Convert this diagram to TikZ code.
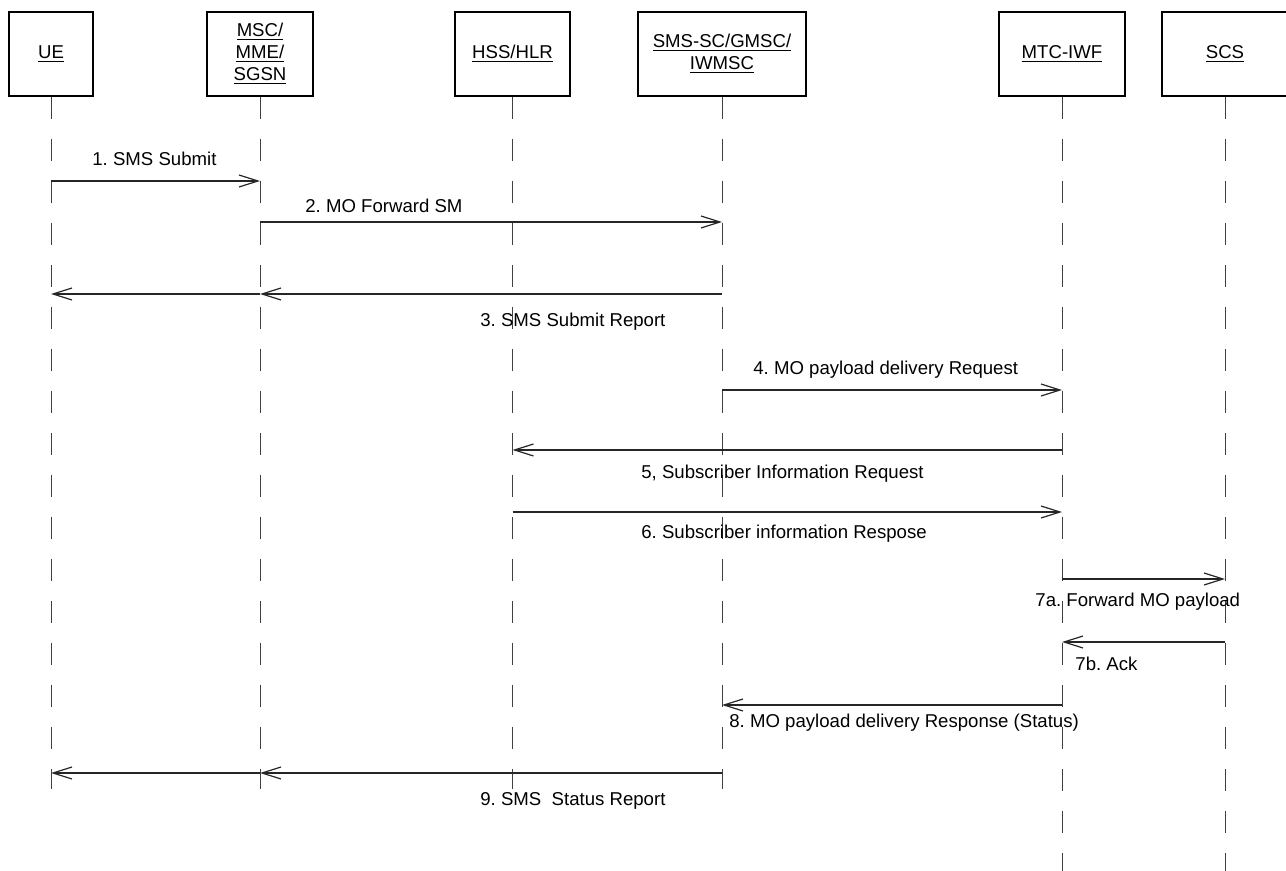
\documentclass[tikz,border=0pt]{standalone}
\usepackage{fontspec}
\setmainfont{Liberation Sans}
\usetikzlibrary{arrows.meta}
\frenchspacing
\tikzset{
  ent/.style={draw=black, line width=0.65pt, inner sep=0pt, align=center,
    minimum height=42pt, font=\fontsize{9.3}{11}\selectfont},
  life/.style={draw=black!75, line width=0.5pt, dash pattern=on 11pt off 10pt},
  msg/.style={draw=black!85, line width=0.6pt, -{Straight Barb[length=9.5pt,width=6pt]}},
  lbl/.style={inner sep=0pt, anchor=base west, font=\fontsize{9.3}{11}\selectfont\frenchspacing}
}
\begin{document}
\begin{tikzpicture}[x=0.5pt,y=-0.5pt]
\useasboundingbox (0,0) rectangle (1286,871);
% entities
\node[ent, minimum width=42pt] (ue) at (51,54) {\underline{UE}};
\node[ent, minimum width=53pt] (msc) at (260,54) {\underline{MSC/}\\\underline{MME/}\\\underline{SGSN}};
\node[ent, minimum width=57.5pt] (hss) at (512.5,54) {\underline{HSS/HLR}};
\node[ent, minimum width=84pt] (sms) at (722,54) {\underline{SMS-SC/GMSC/}\\\underline{IWMSC}};
\node[ent, minimum width=63pt] (mtc) at (1062,54) {\underline{MTC-IWF}};
\node[ent, minimum width=63pt] (scs) at (1225,54) {\underline{SCS}};
% lifelines
\draw[life] (ue.south) -- (ue.south |- 0,789);
\draw[life] (msc.south) -- (msc.south |- 0,789);
\draw[life] (hss.south) -- (hss.south |- 0,789);
\draw[life] (sms.south) -- (sms.south |- 0,789);
\draw[life] (mtc.south) -- (mtc.south |- 0,880);
\draw[life] (scs.south) -- (scs.south |- 0,880);
% messages
\draw[msg] (ue.south |- 0,181) -- (msc.south |- 0,181);
\node[lbl] (l1) at (92,166) {1. SMS Submit};
\draw[msg] (msc.south |- 0,222) -- (sms.south |- 0,222);
\node[lbl] (l2) at (305,213) {2. MO Forward SM};
\draw[msg] (sms.south |- 0,294) -- (msc.south |- 0,294);
\draw[msg] (msc.south |- 0,294) -- (ue.south |- 0,294);
\node[lbl] (l3) at (480,327) {3. SMS Submit Report};
\draw[msg] (sms.south |- 0,390) -- (mtc.south |- 0,390);
\node[lbl] (l4) at (753,375) {4. MO payload delivery Request};
\draw[msg] (mtc.south |- 0,450) -- (hss.south |- 0,450);
\node[lbl] (l5) at (641,479) {5, Subscriber Information Request};
\draw[msg] (hss.south |- 0,512) -- (mtc.south |- 0,512);
\node[lbl] (l6) at (641,539) {6. Subscriber information Respose};
\draw[msg] (mtc.south |- 0,579) -- (scs.south |- 0,579);
\node[lbl] (l7a) at (1035,607) {7a. Forward MO payload};
\draw[msg] (scs.south |- 0,642) -- (mtc.south |- 0,642);
\node[lbl] (l7b) at (1075,670) {7b. Ack};
\draw[msg] (mtc.south |- 0,705) -- (sms.south |- 0,705);
\node[lbl] (l8) at (729,727) {8. MO payload delivery Response (Status)};
\draw[msg] (sms.south |- 0,773) -- (msc.south |- 0,773);
\draw[msg] (msc.south |- 0,773) -- (ue.south |- 0,773);
\node[lbl] (l9) at (480,805) {9. SMS\ \ Status Report};
\end{tikzpicture}
\end{document}
